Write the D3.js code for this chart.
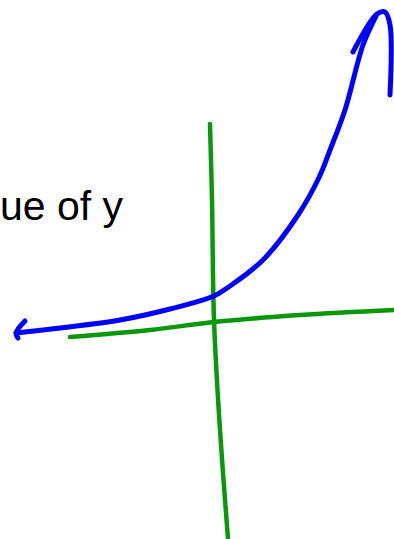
<!DOCTYPE html>
<html>
<head>
<meta charset="utf-8">
<script src="https://cdn.jsdelivr.net/npm/d3@7"></script>
<style>
  html, body { margin: 0; padding: 0; background: #fff; overflow: hidden; }
  svg { display: block; }
</style>
</head>
<body>
<svg id="chart" width="394" height="539"></svg>
<script>
// Hand-sketched axes (data units, origin where the axes cross)
const xAxisPts = [[-2.88, -0.34], [-1.28, -0.2], [0, -0.04], [1.72, 0.1], [3.6, 0.2]];
const yAxisPts = [[-0.08, 3.92], [-0.04, 2.4], [0, 0], [0.12, -2.2], [0.28, -4.38]];

// Exponential-looking curve, left to right
const curvePts = [
  [-3.96, -0.26], [-3.08, -0.16], [-1.88, 0.0], [-0.88, 0.22], [0, 0.48],
  [0.32, 0.68], [0.98, 1.2], [1.68, 2.1], [2.1, 2.85], [2.32, 3.4],
  [2.62, 4.2], [2.98, 5.5], [3.24, 6.08]
];
// Arrow heads at both ends
const leftHead = [[-3.78, -0.02], [-3.96, -0.26], [-3.92, -0.36]];
const topHead = [[2.78, 5.36], [3.26, 6.12], [3.42, 6.16], [3.52, 5.9], [3.52, 4.5]];

const labelText = "ue of y";

const svg = d3.select("#chart");
const W = 394, H = 539;

// 50 px per unit, origin at (214, 320)
const x = d3.scaleLinear().domain([-4.28, 3.6]).range([0, W]);
const y = d3.scaleLinear().domain([6.4, -4.38]).range([0, H]);

const smooth = d3.line().x(d => x(d[0])).y(d => y(d[1])).curve(d3.curveCatmullRom.alpha(0.5));

const green = "#0a980a";
const blue = "#0000ff";

function stroke(pts, color, width) {
  svg.append("path").attr("d", smooth(pts))
    .attr("fill", "none").attr("stroke", color).attr("stroke-width", width)
    .attr("stroke-linecap", "round").attr("stroke-linejoin", "round");
}

stroke(xAxisPts, green, 4.5);
stroke(yAxisPts, green, 4.5);
stroke(curvePts, blue, 5);
stroke(leftHead, blue, 5);
stroke(topHead, blue, 5);

svg.append("text")
  .attr("x", 0).attr("y", 220)
  .attr("text-anchor", "start")
  .attr("font-family", "Liberation Sans, Arial, sans-serif")
  .attr("font-size", 41)
  .attr("fill", "#000")
  .text(labelText);
</script>
</body>
</html>
